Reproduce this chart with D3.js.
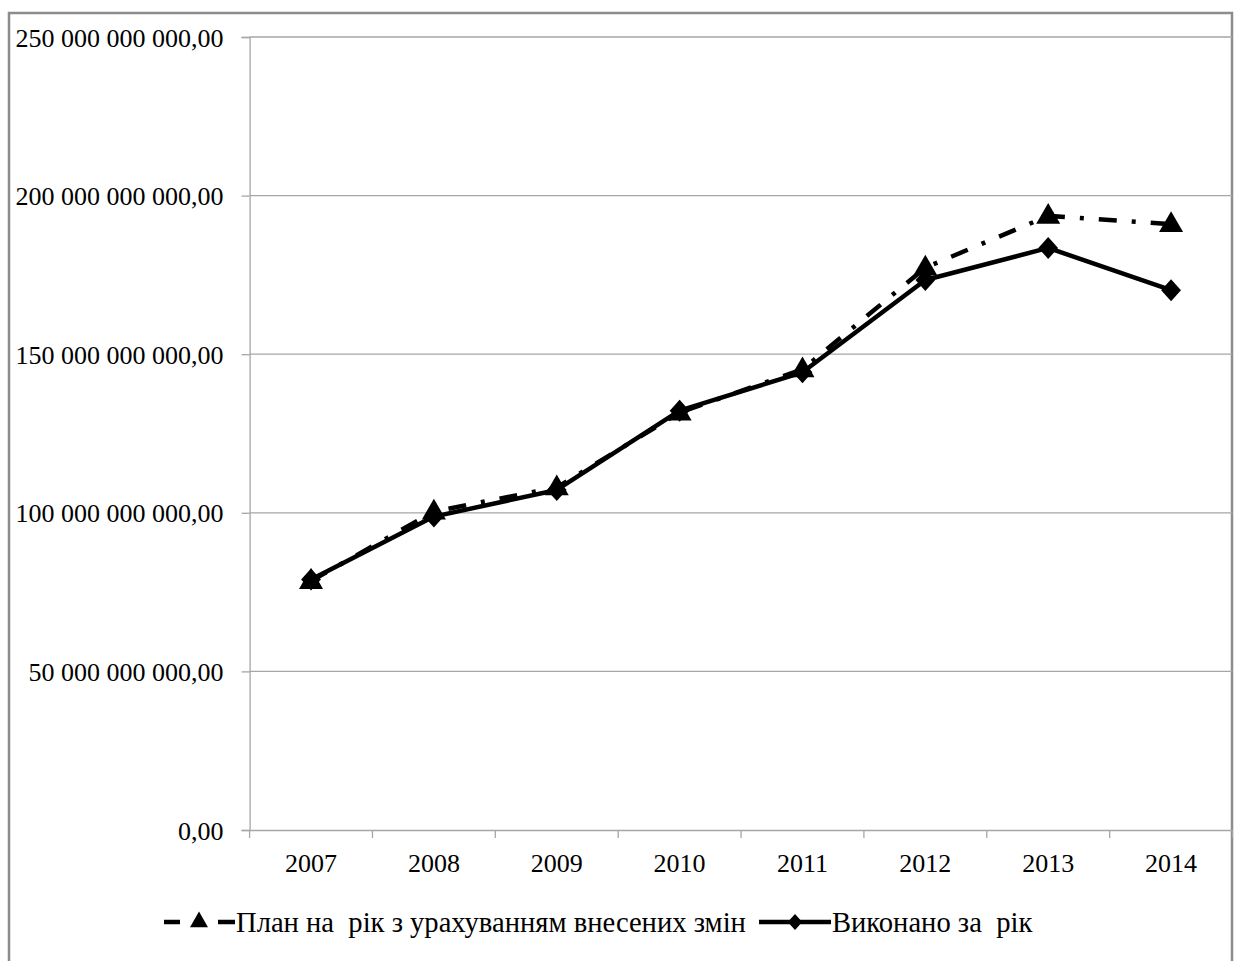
<!DOCTYPE html>
<html>
<head>
<meta charset="utf-8">
<script src="https://cdnjs.cloudflare.com/ajax/libs/d3/7.8.5/d3.min.js"></script>
<style>
  html, body { margin: 0; padding: 0; background: #fff; }
  svg { display: block; }
  text { font-family: "Liberation Serif", "Times New Roman", serif; fill: #000; white-space: pre; }
</style>
</head>
<body>
<svg id="chart" width="1235" height="961"></svg>
<script>
// Budget figures by year, in hryvnias
const years = ["2007", "2008", "2009", "2010", "2011", "2012", "2013", "2014"];
const planValues = [78.5e9, 100.4e9, 108.0e9, 131.6e9, 145.2e9, 177.3e9, 193.6e9, 191.0e9];
const actualValues = [79.0e9, 98.8e9, 107.2e9, 132.2e9, 144.3e9, 173.4e9, 183.5e9, 170.2e9];
const yTicks = [0, 50e9, 100e9, 150e9, 200e9, 250e9];
const seriesNames = ["План на  рік з урахуванням внесених змін", "Виконано за  рік"];

(function () {
const svg = d3.select("#chart");
const plotLeft = 249.6, plotRight = 1232.5, plotTop = 37, plotBottom = 830;
const grey = "#a6a6a6";

// Outer chart frame
svg.append("rect")
  .attr("x", 9).attr("y", 13).attr("width", 1223).attr("height", 980)
  .attr("fill", "none").attr("stroke", "#8c8c8c").attr("stroke-width", 2.5);

const x = d3.scaleBand().domain(years).range([plotLeft, plotRight]);
const y = d3.scaleLinear().domain([0, 250e9]).range([plotBottom, plotTop]);

const fmt = v => {
  const s = d3.format(",.2f")(v);
  return s.replace(/,/g, " ").replace(/\.(\d\d)$/, ",$1");
};

// Horizontal gridlines
svg.append("g").selectAll("line").data(yTicks.filter(d => d > 0)).join("line")
  .attr("x1", plotLeft).attr("x2", plotRight)
  .attr("y1", d => y(d)).attr("y2", d => y(d))
  .attr("stroke", grey).attr("stroke-width", 1.3);

// Y axis
const yAxis = svg.append("g").attr("transform", `translate(${plotLeft},0)`)
  .call(d3.axisLeft(y).tickValues(yTicks).tickFormat(fmt).tickSize(8).tickPadding(18));
yAxis.select(".domain").attr("stroke", grey).attr("stroke-width", 1.3);
yAxis.selectAll(".tick line").attr("stroke", grey).attr("stroke-width", 1.3);
yAxis.selectAll(".tick text").style("font-size", "26px")
  .style("font-family", "'Liberation Serif', serif").attr("dy", "0.35em");

// X axis with ticks at category boundaries
const xAxis = svg.append("g").attr("transform", `translate(0,${plotBottom})`)
  .call(d3.axisBottom(x).tickSize(0).tickPadding(24));
xAxis.select(".domain").attr("stroke", grey).attr("stroke-width", 1.3);
xAxis.selectAll(".tick text").style("font-size", "26px")
  .style("font-family", "'Liberation Serif', serif");
svg.append("g").selectAll("line").data(d3.range(years.length + 1)).join("line")
  .attr("x1", i => plotLeft + i * x.step()).attr("x2", i => plotLeft + i * x.step())
  .attr("y1", plotBottom).attr("y2", plotBottom + 8)
  .attr("stroke", grey).attr("stroke-width", 1.3);

const cx = d => x(d) + x.bandwidth() / 2;
const line = d3.line().x(d => cx(d.year)).y(d => y(d.value));
const planData = years.map((yr, i) => ({ year: yr, value: planValues[i] }));
const actualData = years.map((yr, i) => ({ year: yr, value: actualValues[i] }));

const triangle = d3.symbol().type(d3.symbolTriangle).size(250);
const diamond = (s) => `M0,${-s}L${s * 0.9},0L0,${s}L${-s * 0.9},0Z`;

// Plan series: dash-dot line with triangles
svg.append("path").datum(planData)
  .attr("d", line).attr("fill", "none").attr("stroke", "#000")
  .attr("stroke-width", 4.5).attr("stroke-dasharray", "18,15,4,15");
svg.append("g").selectAll("path").data(planData).join("path")
  .attr("d", triangle)
  .attr("transform", d => `translate(${cx(d.year)},${y(d.value) + 1})`)
  .attr("fill", "#000");

// Actual series: solid line with diamonds
svg.append("path").datum(actualData)
  .attr("d", line).attr("fill", "none").attr("stroke", "#000")
  .attr("stroke-width", 4.5).attr("stroke-linejoin", "round");
svg.append("g").selectAll("path").data(actualData).join("path")
  .attr("d", diamond(11))
  .attr("transform", d => `translate(${cx(d.year)},${y(d.value)})`)
  .attr("fill", "#000");

// Legend
const ly = 922;
const lg = svg.append("g");
lg.append("line").attr("x1", 164).attr("x2", 180).attr("y1", ly).attr("y2", ly)
  .attr("stroke", "#000").attr("stroke-width", 4.5);
lg.append("line").attr("x1", 218).attr("x2", 235).attr("y1", ly).attr("y2", ly)
  .attr("stroke", "#000").attr("stroke-width", 4.5);
lg.append("path").attr("d", d3.symbol().type(d3.symbolTriangle).size(140))
  .attr("transform", `translate(199,${ly})`).attr("fill", "#000");
lg.append("text").attr("x", 236).attr("y", ly).attr("dy", "0.35em")
  .style("font-size", "28.6px").text(seriesNames[0]);

lg.append("line").attr("x1", 759).attr("x2", 831).attr("y1", ly).attr("y2", ly)
  .attr("stroke", "#000").attr("stroke-width", 4.5);
lg.append("path").attr("d", diamond(8))
  .attr("transform", `translate(795,${ly})`).attr("fill", "#000");
lg.append("text").attr("x", 832).attr("y", ly).attr("dy", "0.35em")
  .style("font-size", "28.6px").text(seriesNames[1]);
})();
</script>
</body>
</html>
